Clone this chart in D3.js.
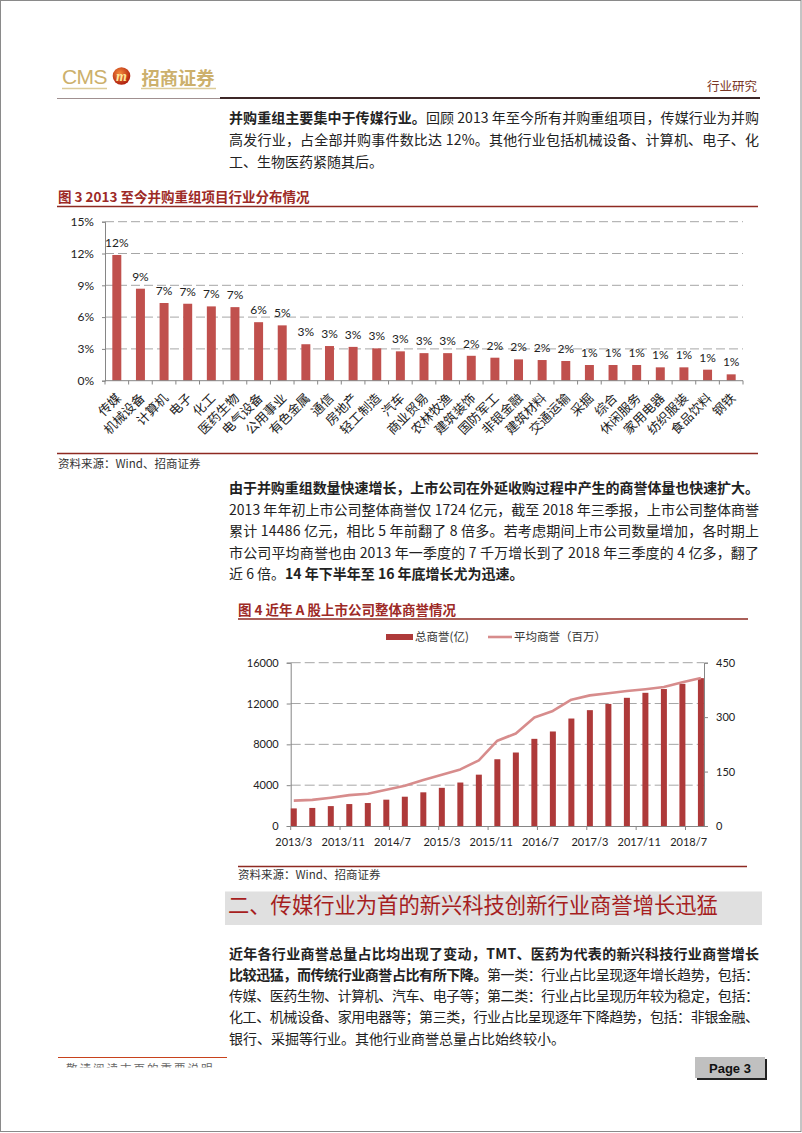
<!DOCTYPE html>
<html><head><meta charset="utf-8">
<script src="https://cdn.jsdelivr.net/npm/d3@7"></script>
<style>
html,body{margin:0;padding:0;background:#fff;}
svg{display:block;}
</style></head><body>
<svg id="page" width="802" height="1133"></svg>
<script>
// ---------- DATA ----------
const industries = ["传媒","机械设备","计算机","电子","化工","医药生物","电气设备","公用事业","有色金属","通信","房地产","轻工制造","汽车","商业贸易","农林牧渔","建筑装饰","国防军工","非银金融","建筑材料","交通运输","采掘","综合","休闲服务","家用电器","纺织服装","食品饮料","钢铁"];
const shares = [11.86, 8.68, 7.33, 7.26, 7.01, 6.94, 5.52, 5.22, 3.44, 3.27, 3.19, 3.05, 2.77, 2.60, 2.60, 2.35, 2.17, 2.01, 1.95, 1.86, 1.48, 1.48, 1.48, 1.26, 1.26, 1.04, 0.60];
const shareTicks = [0, 3, 6, 9, 12, 15];

const quarters = ["2013/3","2013/6","2013/9","2013/12","2014/3","2014/6","2014/9","2014/12","2015/3","2015/6","2015/9","2015/12","2016/3","2016/6","2016/9","2016/12","2017/3","2017/6","2017/9","2017/12","2018/3","2018/6","2018/9"];
const totalGoodwill = [1724, 1770, 1950, 2150, 2250, 2580, 2870, 3300, 3740, 4260, 5030, 6540, 7200, 8540, 9260, 10530, 11350, 11960, 12560, 13050, 13420, 13930, 14486];
const avgGoodwill = [70, 72, 78, 85, 89, 100, 111, 127, 141, 156, 181, 235, 255, 299, 317, 348, 360, 366, 372, 377, 383, 396, 408];
const leftTicks = [0, 4000, 8000, 12000, 16000];
const rightTicks = [0, 150, 300, 450];
const dateTickLabels = ["2013/3","2013/11","2014/7","2015/3","2015/11","2016/7","2017/3","2017/11","2018/7"];
const seriesNames = ["总商誉(亿)", "平均商誉（百万）"];

// ---------- TEXT ----------
const para1 = [
  [["并购重组主要集中于传媒行业。",1],["回顾 2013 年至今所有并购重组项目，传媒行业为并购",0]],
  [["高发行业，占全部并购事件数比达 12%。其他行业包括机械设备、计算机、电子、化",0]],
  [["工、生物医药紧随其后。",0]]
];
const para2 = [
  [["由于并购重组数量快速增长，上市公司在外延收购过程中产生的商誉体量也快速扩大。",1]],
  [["2013 年年初上市公司整体商誉仅 1724 亿元，截至 2018 年三季报，上市公司整体商誉",0]],
  [["累计 14486 亿元，相比 5 年前翻了 8 倍多。若考虑期间上市公司数量增加，各时期上",0]],
  [["市公司平均商誉也由 2013 年一季度的 7 千万增长到了 2018 年三季度的 4 亿多，翻了",0]],
  [["近 6 倍。",0],["14 年下半年至 16 年底增长尤为迅速。",1]]
];
const para3 = [
  [["近年各行业商誉总量占比均出现了变动，TMT、医药为代表的新兴科技行业商誉增长",1]],
  [["比较迅猛，而传统行业商誉占比有所下降。",1],["第一类：行业占比呈现逐年增长趋势，包括：",0]],
  [["传媒、医药生物、计算机、汽车、电子等；第二类：行业占比呈现历年较为稳定，包括：",0]],
  [["化工、机械设备、家用电器等；第三类，行业占比呈现逐年下降趋势，包括：非银金融、",0]],
  [["银行、采掘等行业。其他行业商誉总量占比始终较小。",0]]
];

const CJK = "'Noto Sans CJK SC', 'Noto Sans', sans-serif";
const NUM = "Lato, 'Open Sans', 'Noto Sans', sans-serif";
const svg = d3.select("#page");

// page border
svg.append("rect").attr("x",0.5).attr("y",0.5).attr("width",800.5).attr("height",1131).attr("fill","#fff").attr("stroke","#8a8a8a");

// ---------- HEADER ----------
const defs = svg.append("defs");
const rg = defs.append("radialGradient").attr("id","logoG").attr("cx","40%").attr("cy","35%").attr("r","65%");
rg.append("stop").attr("offset","0%").attr("stop-color","#f58a3a");
rg.append("stop").attr("offset","100%").attr("stop-color","#b0200f");
const gold = "#ccb06c";
svg.append("text").attr("x",62).attr("y",84).attr("font-family","'Liberation Sans', Arial, sans-serif")
  .attr("font-size",21).attr("fill",gold).attr("letter-spacing",-0.6).text("CMS");
svg.append("circle").attr("cx",121.5).attr("cy",76).attr("r",8.8).attr("fill","url(#logoG)");
svg.append("text").attr("x",121.5).attr("y",80.5).attr("text-anchor","middle").attr("font-family","'Liberation Serif', serif")
  .attr("font-style","italic").attr("font-weight","bold").attr("font-size",14).attr("fill","#ffe69a").text("m");
svg.append("text").attr("x",141.5).attr("y",84.5).attr("font-family",CJK).attr("font-weight","bold")
  .attr("font-size",18.3).attr("fill",gold).text("招商证券");
svg.append("line").attr("x1",62).attr("x2",107).attr("y1",88.5).attr("y2",88.5).attr("stroke","#dccb98").attr("stroke-width",1.4);
svg.append("line").attr("x1",141).attr("x2",216).attr("y1",88.5).attr("y2",88.5).attr("stroke","#dccb98").attr("stroke-width",1.4);
svg.append("text").attr("x",757).attr("y",91).attr("text-anchor","end").attr("font-family",CJK)
  .attr("font-size",12.5).attr("fill","#7a3626").text("行业研究");
svg.append("line").attr("x1",57).attr("x2",221).attr("y1",98.5).attr("y2",98.5).attr("stroke","#a09090").attr("stroke-width",1);
svg.append("line").attr("x1",220).attr("x2",760).attr("y1",98).attr("y2",98).attr("stroke","#3d2828").attr("stroke-width",2);

// ---------- PARAGRAPHS ----------
function para(lines, x, y0, dy, width) {
  lines.forEach((segs, i) => {
    const t = svg.append("text").attr("x", x).attr("y", y0 + i * dy)
      .attr("font-family", CJK).attr("font-size", 14).attr("fill", "#222");
    segs.forEach(s => t.append("tspan").attr("font-weight", s[1] ? "bold" : "normal").text(s[0]));
    if (i < lines.length - 1) t.attr("textLength", width).attr("lengthAdjust", "spacing");
  });
}
para(para1, 229, 122.5, 22, 530);
para(para2, 229, 493, 21.5, 530);
para(para3, 229, 958.5, 21.3, 530);

// ---------- FIGURE 3 ----------
const titleColor = "#9d2a26";
svg.append("text").attr("x",58).attr("y",202).attr("font-family",CJK).attr("font-weight","bold")
  .attr("font-size",13.5).attr("fill",titleColor).text("图 3 2013 至今并购重组项目行业分布情况");
svg.append("line").attr("x1",57).attr("x2",758).attr("y1",206.5).attr("y2",206.5).attr("stroke","#8e2a22").attr("stroke-width",1.3);

const x1 = d3.scaleBand().domain(industries).range([105, 743]).paddingInner(0.62).paddingOuter(0.31);
const y1 = d3.scaleLinear().domain([0, 15]).range([380.7, 221.7]);
const g1 = svg.append("g");
g1.selectAll("line.grid").data(shareTicks.filter(d => d > 0)).join("line")
  .attr("x1",105).attr("x2",743).attr("y1",d=>y1(d)).attr("y2",d=>y1(d))
  .attr("stroke","#a6a6a6").attr("stroke-width",1).attr("stroke-dasharray","9,4");
const yAx1 = g1.append("g").attr("transform","translate(105,0)")
  .call(d3.axisLeft(y1).tickValues(shareTicks).tickFormat(d => d + "%").tickSize(3).tickPadding(8));
yAx1.select(".domain").attr("stroke","#868686");
yAx1.selectAll(".tick line").attr("stroke","#868686");
yAx1.selectAll("text").attr("font-family",NUM).attr("font-size",12).attr("fill","#222");
g1.selectAll("rect.bar").data(industries).join("rect")
  .attr("x", d => x1(d)).attr("width", x1.bandwidth())
  .attr("y", (d,i) => y1(shares[i])).attr("height", (d,i) => y1(0) - y1(shares[i]))
  .attr("fill","#c0504d");
g1.selectAll("text.val").data(industries).join("text")
  .attr("x", d => x1(d) + x1.bandwidth()/2).attr("y", (d,i) => y1(shares[i]) - 8)
  .attr("text-anchor","middle").attr("font-family",NUM).attr("font-size",12).attr("fill","#222")
  .text((d,i) => Math.round(shares[i]) + "%");
g1.append("line").attr("x1",105).attr("x2",743).attr("y1",380.7).attr("y2",380.7).attr("stroke","#868686");
const step1 = x1.step();
g1.selectAll("line.xt").data(d3.range(industries.length + 1)).join("line")
  .attr("x1", i => 105 + i * step1).attr("x2", i => 105 + i * step1)
  .attr("y1",380.7).attr("y2",384.5).attr("stroke","#868686");
g1.selectAll("text.cat").data(industries).join("text")
  .attr("transform", d => `translate(${x1(d) + x1.bandwidth()/2 + 5},${399}) rotate(-45)`)
  .attr("text-anchor","end").attr("font-family",CJK).attr("font-size",12.8).attr("fill","#222")
  .text(d => d);

svg.append("line").attr("x1",57).attr("x2",758).attr("y1",453.5).attr("y2",453.5).attr("stroke","#8e2a22").attr("stroke-width",1.3);
svg.append("text").attr("x",58).attr("y",467.5).attr("font-family",CJK).attr("font-size",11.5).attr("fill","#333").text("资料来源：Wind、招商证券");

// ---------- FIGURE 4 ----------
svg.append("text").attr("x",238).attr("y",614.5).attr("font-family",CJK).attr("font-weight","bold")
  .attr("font-size",13.5).attr("fill",titleColor).text("图 4  近年 A 股上市公司整体商誉情况");
svg.append("line").attr("x1",238).attr("x2",748).attr("y1",619).attr("y2",619).attr("stroke","#8e2a22").attr("stroke-width",1.3);

const months = [];
for (let yy = 2013, mm = 3; ; ) { months.push(yy + "/" + mm); if (yy === 2018 && mm === 9) break; mm++; if (mm > 12) { mm = 1; yy++; } }
const L = 290.7, R = 704, B = 826, T = 662.7;
const x2 = d3.scaleBand().domain(months).range([L, R]);
const yL = d3.scaleLinear().domain([0, 16000]).range([B, T]);
const yR = d3.scaleLinear().domain([0, 450]).range([B, T]);
const g2 = svg.append("g");
g2.selectAll("line.grid").data(leftTicks.filter(d => d > 0)).join("line")
  .attr("x1",L).attr("x2",R).attr("y1",d=>yL(d)).attr("y2",d=>yL(d))
  .attr("stroke","#a6a6a6").attr("stroke-width",1).attr("stroke-dasharray","10,4");
const axL = g2.append("g").attr("transform",`translate(${L},0)`)
  .call(d3.axisLeft(yL).tickValues(leftTicks).tickFormat(d3.format("d")).tickSize(4).tickPadding(8));
const axR = g2.append("g").attr("transform",`translate(${R},0)`)
  .call(d3.axisRight(yR).tickValues(rightTicks).tickFormat(d3.format("d")).tickSize(4).tickPadding(8));
[axL, axR].forEach(a => {
  a.select(".domain").attr("stroke","#868686");
  a.selectAll(".tick line").attr("stroke","#868686");
  a.selectAll("text").attr("font-family",NUM).attr("font-size",11).attr("fill","#222");
});
const bw = 6;
g2.selectAll("rect.bar").data(quarters).join("rect")
  .attr("x", d => x2(d) + (x2.bandwidth() - bw)/2).attr("width", bw)
  .attr("y", (d,i) => yL(totalGoodwill[i])).attr("height", (d,i) => B - yL(totalGoodwill[i]))
  .attr("fill","#ae3a3a");
const line = d3.line().x((d,i) => x2(quarters[i]) + x2.bandwidth()/2).y(d => yR(d));
g2.append("path").datum(avgGoodwill).attr("d", line).attr("fill","none")
  .attr("stroke","#d78c8c").attr("stroke-width",2.6).attr("stroke-linejoin","round");
const axB = g2.append("g").attr("transform",`translate(0,${B})`)
  .call(d3.axisBottom(x2).tickValues(dateTickLabels).tickSize(0).tickPadding(12));
axB.select(".domain").attr("stroke","#868686");
axB.selectAll("text").attr("font-family",NUM).attr("font-size",11).attr("fill","#222");
g2.selectAll("line.xt").data(dateTickLabels).join("line")
  .attr("x1", d => x2(d)).attr("x2", d => x2(d)).attr("y1", B).attr("y2", B + 4).attr("stroke","#868686");
const lg = g2.append("g");
lg.append("rect").attr("x",386).attr("y",634).attr("width",27).attr("height",6).attr("fill","#ae3a3a");
lg.append("text").attr("x",415).attr("y",641).attr("font-family",CJK).attr("font-size",11.5).attr("fill","#333").text(seriesNames[0]);
lg.append("line").attr("x1",488).attr("x2",512).attr("y1",637).attr("y2",637).attr("stroke","#d78c8c").attr("stroke-width",2.6);
lg.append("text").attr("x",514).attr("y",641).attr("font-family",CJK).attr("font-size",11.5).attr("fill","#333").text(seriesNames[1]);

svg.append("line").attr("x1",238).attr("x2",747).attr("y1",866.5).attr("y2",866.5).attr("stroke","#8e2a22").attr("stroke-width",1.3);
svg.append("text").attr("x",238).attr("y",879).attr("font-family",CJK).attr("font-size",11.5).attr("fill","#333").text("资料来源：Wind、招商证券");

// ---------- SECTION HEADER ----------
svg.append("rect").attr("x",225).attr("y",891.5).attr("width",537).attr("height",33.5).attr("fill","#e0e0e0");
svg.append("text").attr("x",228).attr("y",913).attr("font-family",CJK).attr("font-size",21.3).attr("fill","#a61e1e")
  .text("二、传媒行业为首的新兴科技创新行业商誉增长迅猛");

// ---------- FOOTER ----------
svg.append("line").attr("x1",58).attr("x2",227).attr("y1",1057.5).attr("y2",1057.5).attr("stroke","#c8421c").attr("stroke-width",1.2);
defs.append("clipPath").attr("id","fclip").append("rect").attr("x",50).attr("y",1059).attr("width",200).attr("height",8.5);
svg.append("text").attr("clip-path","url(#fclip)").attr("x",66).attr("y",1073).attr("font-family",CJK)
  .attr("font-size",11.5).attr("fill","#666").attr("letter-spacing",2).text("敬请阅读末页的重要说明");
svg.append("rect").attr("x",697).attr("y",1059).attr("width",70).attr("height",21).attr("fill","#222");
svg.append("rect").attr("x",695).attr("y",1057).attr("width",70).attr("height",21).attr("fill","#c0c0c0");
svg.append("text").attr("x",730).attr("y",1072.5).attr("text-anchor","middle").attr("font-family","'Liberation Sans', Arial, sans-serif")
  .attr("font-weight","bold").attr("font-size",13).attr("fill","#111").text("Page 3");
</script>
</body></html>
